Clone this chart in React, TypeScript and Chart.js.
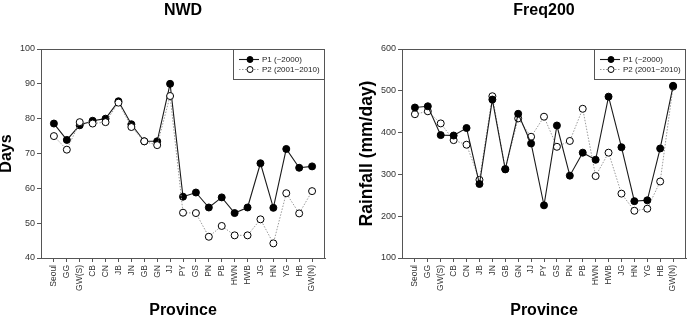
import React, { useEffect, useRef } from "react";
import { Chart, registerables } from "chart.js";

Chart.register(...registerables);

const FONT = "'Liberation Sans', Arial, Helvetica, sans-serif";

// Provinces along the x axis
const provinces = [
  "Seoul", "GG", "GW(S)", "CB", "CN", "JB", "JN", "GB", "GN", "JJ",
  "PY", "GS", "PN", "PB", "HWN", "HWB", "JG", "HN", "YG", "HB", "GW(N)",
];

const seriesLabels = ["P1 (~2000)", "P2 (2001~2010)"];

// Number of wet days (NWD)
const nwdP1 = [78.6, 73.9, 78.1, 79.4, 80.0, 85.0, 78.4, 73.5, 73.5, 90.0, 57.6, 58.8, 54.5, 57.4, 52.9, 54.5, 67.2, 54.4, 71.3, 65.9, 66.3];
const nwdP2 = [75.0, 71.1, 79.0, 78.6, 79.0, 84.6, 77.6, 73.5, 72.4, 86.5, 53.0, 52.9, 46.1, 49.2, 46.5, 46.5, 51.1, 44.2, 58.6, 52.8, 59.2];

// Rainfall frequency, 200-year (mm/day)
const freqP1 = [460, 463, 394, 393, 411, 277, 479, 312, 445, 374, 226, 417, 297, 352, 335, 486, 365, 236, 238, 362, 512];
const freqP2 = [444, 451, 422, 382, 371, 287, 487, 313, 434, 390, 438, 366, 380, 457, 296, 352, 254, 213, 218, 283, 510];

// Axis ranges / tick steps
const nwdAxis = { min: 40, max: 100, step: 10 };
const freqAxis = { min: 100, max: 600, step: 100 };

const AXIS_COLOR = "#555";

const decoPlugin = {
  id: "deco",
  afterDraw(chart: any, _args: any, opts: any) {
    const { ctx, chartArea: a } = chart;
    ctx.save();

    // top and right sides of the plot frame
    ctx.strokeStyle = AXIS_COLOR;
    ctx.lineWidth = 1;
    ctx.beginPath();
    ctx.moveTo(a.left, a.top + 0.5);
    ctx.lineTo(a.right - 0.5, a.top + 0.5);
    ctx.lineTo(a.right - 0.5, a.bottom);
    ctx.stroke();

    // chart title
    ctx.fillStyle = "#000";
    ctx.textAlign = "center";
    ctx.textBaseline = "middle";
    ctx.font = `bold 16px ${FONT}`;
    ctx.fillText(opts.title, (a.left + a.right) / 2, 11);

    // x axis title
    ctx.fillText("Province", (a.left + a.right) / 2, 311);

    // y axis title
    ctx.save();
    ctx.translate(opts.yTitleX, (a.top + a.bottom) / 2);
    ctx.rotate(-Math.PI / 2);
    ctx.font = `bold ${opts.yTitleSize}px ${FONT}`;
    ctx.fillText(opts.yTitle, 0, 0);
    ctx.restore();

    // legend box
    const w = 92, h = 31;
    const x = a.right - w, y = a.top;
    ctx.fillStyle = "#fff";
    ctx.fillRect(x, y, w, h);
    ctx.strokeStyle = AXIS_COLOR;
    ctx.strokeRect(x + 0.5, y + 0.5, w - 1, h - 1);

    chart.data.datasets.forEach((ds: any, i: number) => {
      const ry = y + 10.5 + i * 10;
      ctx.strokeStyle = ds.borderColor;
      ctx.lineWidth = ds.borderWidth;
      ctx.setLineDash(ds.borderDash || []);
      ctx.beginPath();
      ctx.moveTo(x + 6, ry);
      ctx.lineTo(x + 26, ry);
      ctx.stroke();
      ctx.setLineDash([]);
      ctx.beginPath();
      ctx.arc(x + 17, ry, 3, 0, Math.PI * 2);
      ctx.fillStyle = ds.pointBackgroundColor;
      ctx.fill();
      ctx.strokeStyle = ds.pointBorderColor;
      ctx.lineWidth = 1;
      ctx.stroke();
      ctx.fillStyle = "#222";
      ctx.textAlign = "left";
      ctx.font = `8px ${FONT}`;
      ctx.fillText(ds.label, x + 29, ry + 0.5);
    });

    ctx.restore();
  },
};

function makeConfig(
  p1: number[],
  p2: number[],
  axis: { min: number; max: number; step: number },
  yWidth: number,
  rightPad: number,
  deco: any,
  p2OnTop: boolean
): any {
  const toPts = (vals: number[]) => vals.map((v, i) => ({ x: i, y: v }));
  return {
    type: "line",
    data: {
      datasets: [
        {
          label: seriesLabels[0],
          data: toPts(p1),
          borderColor: "#1a1a1a",
          borderWidth: 1.1,
          pointBackgroundColor: "#000",
          pointBorderColor: "#000",
          pointRadius: 3.5,
          pointBorderWidth: 1,
          tension: 0,
          order: p2OnTop ? 2 : 1,
        },
        {
          label: seriesLabels[1],
          data: toPts(p2),
          borderColor: "#9a9a9a",
          borderWidth: 1,
          borderDash: [1.5, 1.5],
          pointBackgroundColor: "#fff",
          pointBorderColor: "#000",
          pointRadius: 3.5,
          pointBorderWidth: 1,
          tension: 0,
          order: p2OnTop ? 1 : 2,
        },
      ],
    },
    options: {
      responsive: false,
      animation: false,
      layout: { padding: { top: 49, right: rightPad, bottom: 0, left: 0 } },
      plugins: {
        legend: { display: false },
        tooltip: { enabled: false },
        deco,
      },
      scales: {
        x: {
          type: "linear",
          min: -1,
          max: provinces.length,
          afterBuildTicks: (scale: any) => {
            scale.ticks = provinces.map((_, i) => ({ value: i }));
          },
          afterFit: (scale: any) => {
            scale.height = 60;
          },
          grid: {
            display: true,
            drawOnChartArea: false,
            drawTicks: true,
            tickLength: 4,
            color: AXIS_COLOR,
          },
          border: { display: true, color: AXIS_COLOR, width: 1 },
          ticks: {
            autoSkip: false,
            minRotation: 90,
            maxRotation: 90,
            padding: 3,
            color: "#333",
            font: { family: FONT, size: 8.5 },
            callback: (v: number) => provinces[v] ?? "",
          },
        },
        y: {
          min: axis.min,
          max: axis.max,
          afterFit: (scale: any) => {
            scale.width = yWidth;
          },
          grid: {
            display: true,
            drawOnChartArea: false,
            drawTicks: true,
            tickLength: 4,
            color: AXIS_COLOR,
          },
          border: { display: true, color: AXIS_COLOR, width: 1 },
          ticks: {
            stepSize: axis.step,
            padding: 2,
            color: "#333",
            font: { family: FONT, size: 9 },
          },
        },
      },
    },
    plugins: [decoPlugin],
  };
}

export default function App() {
  const leftRef = useRef<HTMLCanvasElement>(null);
  const rightRef = useRef<HTMLCanvasElement>(null);

  useEffect(() => {
    const left = new Chart(
      leftRef.current!,
      makeConfig(nwdP1, nwdP2, nwdAxis, 41, 20, { title: "NWD", yTitle: "Days", yTitleX: 7, yTitleSize: 16 }, true)
    );
    const right = new Chart(
      rightRef.current!,
      makeConfig(freqP1, freqP2, freqAxis, 57, 5, { title: "Freq200", yTitle: "Rainfall (mm/day)", yTitleX: 22, yTitleSize: 17.5 }, false)
    );
    return () => {
      left.destroy();
      right.destroy();
    };
  }, []);

  return (
    <div style={{ position: "fixed", left: 0, top: 0, width: 691, height: 318, background: "#fff" }}>
      <canvas ref={leftRef} width={345} height={318} style={{ position: "absolute", left: 0, top: 0, width: 345, height: 318 }} />
      <canvas ref={rightRef} width={346} height={318} style={{ position: "absolute", left: 345, top: 0, width: 346, height: 318 }} />
    </div>
  );
}
